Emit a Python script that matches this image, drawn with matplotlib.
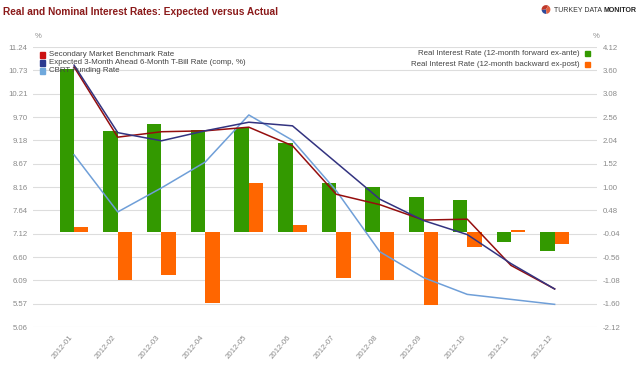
import matplotlib
matplotlib.use('Agg')
import matplotlib.pyplot as plt
import numpy as np
from matplotlib.patches import Rectangle

plt.rcParams['font.family'] = ['Liberation Sans', 'DejaVu Sans']

# ---- data ----
months = ['2012-01', '2012-02', '2012-03', '2012-04', '2012-05', '2012-06',
          '2012-07', '2012-08', '2012-09', '2012-10', '2012-11', '2012-12']
secondary = [10.80, 9.25, 9.37, 9.39, 9.47, 9.06, 7.99, 7.76, 7.42, 7.44, 6.42, 5.90]
expected = [10.84, 9.35, 9.17, 9.39, 9.58, 9.50, 8.69, 7.88, 7.41, 7.10, 6.46, 5.90]
cbrt = [8.86, 7.60, 8.13, 8.70, 9.74, 9.18, 8.07, 6.72, 6.15, 5.78, 5.67, 5.56]
real_ante = [3.63, 2.25, 2.40, 2.26, 2.32, 1.97, 1.09, 0.99, 0.78, 0.71, -0.23, -0.43]
real_post = [0.10, -1.08, -0.96, -1.59, 1.09, 0.16, -1.02, -1.07, -1.62, -0.33, 0.05, -0.26]
left_ticks = ['5.06', '5.57', '6.09', '6.60', '7.12', '7.64', '8.16', '8.67', '9.18', '9.70', '10.21', '10.73', '11.24']
right_ticks = ['-2.12', '-1.60', '-1.08', '-0.56', '-0.04', '0.48', '1.00', '1.52', '2.04', '2.56', '3.08', '3.60', '4.12']

GREEN = '#339900'; ORANGE = '#FF6600'; RED = '#950E0E'; NAVY = '#333380'; LBLUE = '#6F9FD8'
GRAY = '#8A8A8A'; TITLE = '#8B1A1A'

W, H = 638, 374
fig = plt.figure(figsize=(W / 100, H / 100), dpi=100)
ax = fig.add_axes([33 / W, 1 - 327 / H, (597 - 33) / W, (327 - 47) / H])
ax2 = ax.twinx()
ax.set_zorder(ax2.get_zorder() + 1); ax.patch.set_visible(False)

x = np.arange(len(months)); w = 0.33
ax2.bar(x - w / 2, real_ante, w, color=GREEN, zorder=3)
ax2.bar(x + w / 2, real_post, w, color=ORANGE, zorder=3)
ax.plot(x, cbrt, color=LBLUE, lw=1.1)
ax.plot(x, secondary, color=RED, lw=1.1)
ax.plot(x, expected, color=NAVY, lw=1.1)

lt = [float(t) for t in left_ticks]; rt = [float(t) for t in right_ticks]
ax.set_ylim(lt[0], lt[-1]); ax2.set_ylim(rt[0], rt[-1])
ax.set_yticks(np.linspace(lt[0], lt[-1], len(lt))); ax.set_yticklabels(left_ticks)
ax2.set_yticks(rt); ax2.set_yticklabels(right_ticks)
ax.set_xlim(-0.94, 11.97)
ax.set_xticks(x); ax.set_xticklabels(months, rotation=50, ha='right', rotation_mode='default')
ax2.grid(axis='y', color='#DDDDDD', lw=0.8, zorder=0)
for a in (ax, ax2):
    for s in a.spines.values(): s.set_visible(False)
    a.tick_params(length=0, labelsize=5.6, colors=GRAY)
ax.tick_params(axis='y', pad=4); ax2.tick_params(axis='y', pad=4)
ax.tick_params(axis='x', pad=5, labelsize=5.6)

# ---- title, units, logo ----
fig.text(3 / W, 1 - 12 / H, 'Real and Nominal Interest Rates: Expected versus Actual',
         color=TITLE, fontsize=7.3, fontweight='bold', va='center')
fig.text(35 / W, 1 - 37 / H, '%', color=GRAY, fontsize=5.6, va='center')
fig.text(593 / W, 1 - 37 / H, '%', color=GRAY, fontsize=5.6, va='center')
logo = fig.add_axes([540 / W, 1 - 15 / H, 12 / W, 11 / H])
logo.pie([35, 25, 40], colors=['#C0392B', '#2E4A9A', '#E06040'], startangle=60)
logo.set_aspect('equal')
t1 = fig.text(554 / W, 1 - 10 / H, 'TURKEY DATA', color='#333333', fontsize=5.0, va='center')
r = fig.canvas.get_renderer()
x_end = t1.get_window_extent(r).x1
fig.text((x_end + 2) / W, 1 - 10 / H, 'MONITOR', color='#222222', fontsize=5.0,
         fontweight='bold', va='center')

# ---- legends ----
left_leg = [('Secondary Market Benchmark Rate', '#CC1111'),
            ('Expected 3-Month Ahead 6-Month T-Bill Rate (comp, %)', '#2B3990'),
            ('CBRT Funding Rate', '#6FA8DC')]
for i, (lab, c) in enumerate(left_leg):
    yy = 55 + i * 8
    fig.patches.append(Rectangle((40 / W, 1 - (yy + 2.5) / H), 5 / W, 5 / H,
                                 transform=fig.transFigure, color=c, zorder=5))
    fig.text(49 / W, 1 - yy / H, lab, color='#444444', fontsize=5.7, va='center', zorder=5)
right_leg = [('Real Interest Rate (12-month forward ex-ante)', GREEN),
             ('Real Interest Rate (12-month backward ex-post)', ORANGE)]
for i, (lab, c) in enumerate(right_leg):
    yy = 53.5 + i * 10.7
    fig.patches.append(Rectangle((585 / W, 1 - (yy + 2.5) / H), 5 / W, 5 / H,
                                 transform=fig.transFigure, color=c, zorder=5))
    fig.text(580 / W, 1 - yy / H, lab, color='#444444', fontsize=5.7, va='center', ha='right', zorder=5)

fig.savefig('out.png', dpi=100)
